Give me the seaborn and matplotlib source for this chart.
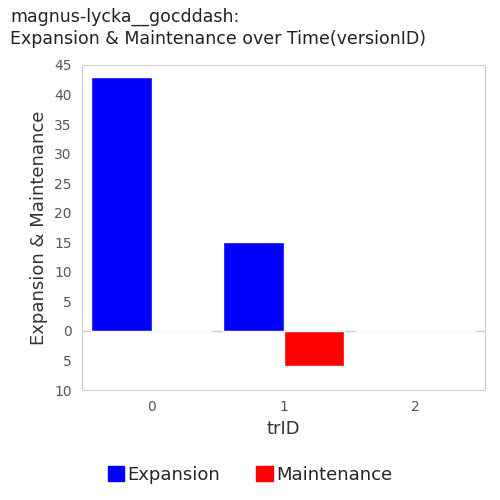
import pandas as pd
import matplotlib.pyplot as plt
import seaborn as sns

tr_ids = ["0", "1", "2"]
expansion = [43, 15, 0]
maintenance = [0, 6, 0]

df = pd.DataFrame({
    "trID": tr_ids * 2,
    "value": expansion + [-m for m in maintenance],
    "kind": ["Expansion"] * 3 + ["Maintenance"] * 3,
})

sns.set_style("white")
plt.rcParams['font.family'] = ['DejaVu Sans']
fig = plt.figure(figsize=(5, 5), dpi=100)
ax = fig.add_axes([0.164, 0.22, 0.806, 0.65])
sns.barplot(data=df, x="trID", y="value", hue="kind",
            palette={"Expansion": "#0000ff", "Maintenance": "#ff0000"},
            width=0.92, saturation=1, ax=ax, legend=False)
ax.set_xlim(-0.53, 2.53)
ax.set_ylim(-10, 45)
ticks = list(range(-10, 46, 5))
ax.set_yticks(ticks)
ax.set_yticklabels([str(abs(t)) for t in ticks])
ax.set_xlabel("trID", fontsize=13, color="#333333")
ax.set_ylabel("Expansion & Maintenance", fontsize=13, color="#333333")
ax.tick_params(colors="#555555", labelsize=10, length=4)
for s in ax.spines.values():
    s.set_color("#cccccc")
ax.axhline(0, color="#cccccc", lw=1, zorder=0)
fig.text(0.02, 0.985, "magnus-lycka__gocddash:\nExpansion & Maintenance over Time(versionID)",
         fontsize=12.5, color="#222222", va="top", ha="left", linespacing=1.3)
h = [plt.Rectangle((0, 0), 1, 1, color="#0000ff"), plt.Rectangle((0, 0), 1, 1, color="#ff0000")]
fig.legend(h, ["Expansion", "Maintenance"], loc="lower center", ncol=2, frameon=False,
           fontsize=13, handlelength=0.9, handleheight=0.9, handletextpad=0.2,
           columnspacing=2, bbox_to_anchor=(0.5, 0.0))
fig.savefig("out.png", dpi=100)
